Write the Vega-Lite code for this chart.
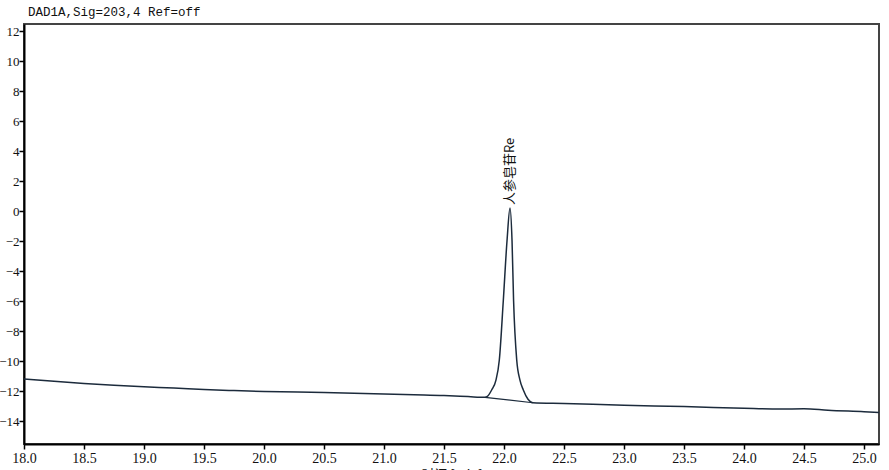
{
  "$schema": "https://vega.github.io/schema/vega-lite/v6.json",
  "width": 855,
  "height": 420,
  "autosize": {"type": "none"},
  "padding": {"left": 24, "top": 24, "right": 10, "bottom": 26},
  "background": "white",
  "title": {
    "text": "DAD1A,Sig=203,4  Ref=off",
    "anchor": "start",
    "frame": "group",
    "font": "Liberation Mono",
    "fontSize": 12.5,
    "fontWeight": "normal",
    "color": "#111",
    "dx": 4,
    "offset": 6
  },
  "config": {
    "view": {"stroke": "#444", "strokeWidth": 2}
  },
  "datasets": {
    "signal": [
      {"t": 18.0, "v": -11.2},
      {"t": 18.25, "v": -11.35},
      {"t": 18.5, "v": -11.5},
      {"t": 18.75, "v": -11.62},
      {"t": 19.0, "v": -11.72},
      {"t": 19.25, "v": -11.8},
      {"t": 19.5, "v": -11.9},
      {"t": 19.75, "v": -11.97},
      {"t": 20.0, "v": -12.03},
      {"t": 20.5, "v": -12.1},
      {"t": 21.0, "v": -12.2},
      {"t": 21.25, "v": -12.25},
      {"t": 21.5, "v": -12.3},
      {"t": 21.7, "v": -12.37},
      {"t": 21.842, "v": -12.42},
      {"t": 21.865, "v": -12.33},
      {"t": 21.897, "v": -11.93},
      {"t": 21.933, "v": -11.27},
      {"t": 21.961, "v": -9.93},
      {"t": 21.994, "v": -6.0},
      {"t": 22.025, "v": -2.0},
      {"t": 22.05, "v": 0.2},
      {"t": 22.067, "v": -2.0},
      {"t": 22.08, "v": -6.0},
      {"t": 22.106, "v": -9.93},
      {"t": 22.133, "v": -11.27},
      {"t": 22.161, "v": -11.93},
      {"t": 22.2, "v": -12.55},
      {"t": 22.24, "v": -12.78},
      {"t": 22.5, "v": -12.83},
      {"t": 23.0, "v": -12.95},
      {"t": 23.5, "v": -13.03},
      {"t": 24.0, "v": -13.15},
      {"t": 24.3, "v": -13.2},
      {"t": 24.5, "v": -13.18},
      {"t": 24.7, "v": -13.28},
      {"t": 25.0, "v": -13.38},
      {"t": 25.125, "v": -13.43}
    ],
    "base": [
      {"t": 21.842, "v": -12.42},
      {"t": 22.24, "v": -12.78}
    ],
    "label": [
      {"t": 22.05, "v": 0.2, "name": "人参皂苷Re"}
    ]
  },
  "encoding": {
    "x": {
      "field": "t",
      "type": "quantitative",
      "scale": {"domain": [18, 25.125], "nice": false, "zero": false},
      "axis": {
        "title": "时间 [min]",
        "values": [18, 18.5, 19, 19.5, 20, 20.5, 21, 21.5, 22, 22.5, 23, 23.5, 24, 24.5, 25],
        "format": ".1f",
        "grid": false,
        "domainColor": "#000",
        "domainWidth": 2,
        "tickColor": "#000",
        "tickWidth": 1.5,
        "tickSize": 5,
        "labelFont": "serif",
        "labelFontSize": 14,
        "labelColor": "#111",
        "labelOverlap": false,
        "labelPadding": 2,
        "labelFlush": false,
        "titleFont": "Noto Sans CJK SC",
        "titleFontWeight": "normal",
        "titleFontSize": 13,
        "titleColor": "#111",
        "titlePadding": 3
      }
    },
    "y": {
      "field": "v",
      "type": "quantitative",
      "scale": {"domain": [-15.53, 12.47], "nice": false, "zero": false},
      "axis": {
        "title": null,
        "values": [-14, -12, -10, -8, -6, -4, -2, 0, 2, 4, 6, 8, 10, 12],
        "tickCount": 14,
        "grid": false,
        "domainColor": "#000",
        "domainWidth": 2,
        "tickColor": "#000",
        "tickWidth": 1.5,
        "tickSize": 5,
        "labelFont": "serif",
        "labelFontSize": 13,
        "labelColor": "#111",
        "labelOverlap": false,
        "labelPadding": 0,
        "labelFlush": false
      }
    }
  },
  "layer": [
    {
      "data": {"name": "signal"},
      "mark": {"type": "line", "color": "#1c2b3c", "strokeWidth": 1.5, "interpolate": "monotone", "clip": true}
    },
    {
      "data": {"name": "base"},
      "mark": {"type": "line", "color": "#1c2b3c", "strokeWidth": 1.2}
    },
    {
      "data": {"name": "label"},
      "mark": {"type": "text", "angle": 270, "align": "left", "baseline": "middle", "dx": 3, "font": "Noto Sans CJK SC", "fontSize": 13, "color": "#111"},
      "encoding": {
        "text": {"field": "name"}
      }
    }
  ]
}
